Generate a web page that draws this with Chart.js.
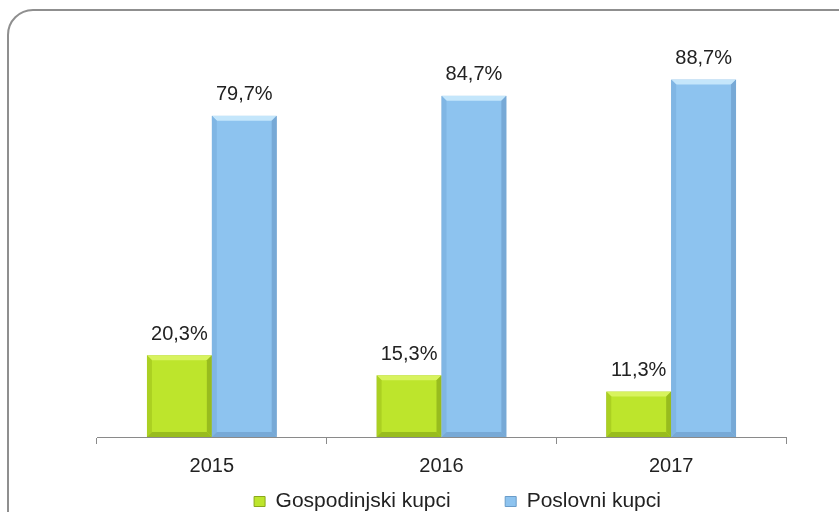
<!DOCTYPE html>
<html>
<head>
<meta charset="utf-8">
<script src="https://cdn.jsdelivr.net/npm/chart.js@4/dist/chart.umd.min.js"></script>
<style>
  html, body { margin: 0; padding: 0; background: #fff; }
  #wrap { position: relative; width: 839px; height: 512px; overflow: hidden; }
  #frame {
    position: absolute; left: 7px; top: 9px; width: 860px; height: 540px;
    border: 2px solid #8f8f8f; border-radius: 26px; box-sizing: border-box;
  }
  #salesChart { position: absolute; left: 0; top: 0; }
</style>
</head>
<body>
<div id="wrap">
  <div id="frame"></div>
  <canvas id="salesChart" width="839" height="512"></canvas>
</div>
<script>
var years = ['2015', '2016', '2017'];
var household = [20.3, 15.3, 11.3];
var business = [79.7, 84.7, 88.7];

var fontFamily = '"Liberation Sans", Arial, sans-serif';

function fmt(v) {
  return v.toFixed(1).replace('.', ',') + '%';
}

// bevelled look on each bar, drawn from the bar elements
var bevelPlugin = {
  id: 'bevel',
  afterDatasetsDraw: function (chart) {
    var ctx = chart.ctx;
    chart.data.datasets.forEach(function (ds, i) {
      var meta = chart.getDatasetMeta(i);
      meta.data.forEach(function (bar) {
        var l = bar.x - bar.width / 2, r = bar.x + bar.width / 2;
        var t = bar.y, b = bar.base, d = 5;
        ctx.save();
        // top facet
        ctx.fillStyle = ds.bevelLight;
        ctx.beginPath();
        ctx.moveTo(l, t); ctx.lineTo(r, t); ctx.lineTo(r - d, t + d); ctx.lineTo(l + d, t + d);
        ctx.closePath(); ctx.fill();
        // left facet
        ctx.fillStyle = ds.bevelSide;
        ctx.beginPath();
        ctx.moveTo(l, t); ctx.lineTo(l + d, t + d); ctx.lineTo(l + d, b - d); ctx.lineTo(l, b);
        ctx.closePath(); ctx.fill();
        // right facet
        ctx.fillStyle = ds.bevelDark;
        ctx.beginPath();
        ctx.moveTo(r, t); ctx.lineTo(r - d, t + d); ctx.lineTo(r - d, b - d); ctx.lineTo(r, b);
        ctx.closePath(); ctx.fill();
        // bottom facet
        ctx.fillStyle = ds.bevelDark;
        ctx.beginPath();
        ctx.moveTo(l, b); ctx.lineTo(l + d, b - d); ctx.lineTo(r - d, b - d); ctx.lineTo(r, b);
        ctx.closePath(); ctx.fill();
        ctx.restore();
      });
    });
  }
};

var valueLabels = {
  id: 'valueLabels',
  afterDatasetsDraw: function (chart) {
    var ctx = chart.ctx;
    ctx.save();
    ctx.font = '20px ' + fontFamily;
    ctx.fillStyle = '#222';
    ctx.textAlign = 'center';
    ctx.textBaseline = 'middle';
    chart.data.datasets.forEach(function (ds, i) {
      chart.getDatasetMeta(i).data.forEach(function (bar, j) {
        ctx.fillText(fmt(ds.data[j]), bar.x, bar.y - 21);
      });
    });
    ctx.restore();
  }
};

// legend sits a little right of the plot centre in the original
var legendShift = {
  id: 'legendShift',
  afterLayout: function (chart) {
    chart.legend.left += 16;
    chart.legend.right += 16;
  }
};

new Chart(document.getElementById('salesChart').getContext('2d'), {
  type: 'bar',
  data: {
    labels: years,
    datasets: [{
      label: 'Gospodinjski kupci',
      data: household,
      backgroundColor: '#bde52c',
      borderColor: '#8aa81c',
      borderWidth: 1,
      bevelLight: '#d8f35e',
      bevelSide: '#abd022',
      bevelDark: '#98bc1e'
    }, {
      label: 'Poslovni kupci',
      data: business,
      backgroundColor: '#8dc3ef',
      borderColor: '#6a9cc9',
      borderWidth: 1,
      bevelLight: '#c4e6fb',
      bevelSide: '#80b6e4',
      bevelDark: '#77a9d6'
    }]
  },
  options: {
    responsive: false,
    animation: false,
    layout: { padding: { left: 97, right: 53, top: 34, bottom: -10 } },
    categoryPercentage: 0.565,
    barPercentage: 1,
    plugins: {
      legend: {
        display: true,
        position: 'bottom',
        labels: {
          font: { family: fontFamily, size: 21 },
          color: '#222',
          boxWidth: 11,
          boxHeight: 10,
          padding: 2,
          generateLabels: function (chart) {
            var items = Chart.defaults.plugins.legend.labels.generateLabels(chart);
            // keep the wide gap between the two entries
            items[0].text = items[0].text + '         ';
            return items;
          }
        }
      },
      tooltip: { enabled: false }
    },
    scales: {
      x: {
        grid: { drawOnChartArea: false, tickLength: 7, color: '#8a8a8a', offset: true },
        border: { color: '#8a8a8a', width: 1 },
        ticks: { font: { family: fontFamily, size: 20 }, color: '#222', padding: 10 },
        afterFit: function (scale) {
          scale.height += 1;
        }
      },
      y: {
        display: false,
        min: 0,
        max: 100
      }
    }
  },
  plugins: [bevelPlugin, valueLabels, legendShift]
});
</script>
</body>
</html>
